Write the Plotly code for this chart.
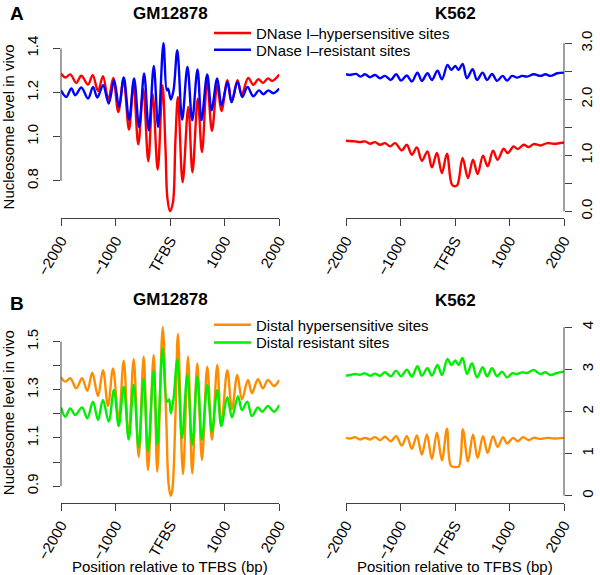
import plotly.graph_objects as go

# ---------------- data ----------------
pos_ticks = [-2000, -1000, 0, 1000, 2000]
pos_labels = ["\u22122000", "\u22121000", "TFBS", "1000", "2000"]

# Panel A, GM12878
gm_hs_x = [-2000, -1921, -1830, -1720, -1628, -1505, -1419, -1322, -1231, -1133, -1042, -950, -855, -754,
           -672, -584, -492, -401, -320, -228, -140, -86, -50, -3, 50, 96, 143, 229, 332, 409, 506, 583,
           678, 766, 863, 940, 1050, 1127, 1234, 1311, 1430, 1523, 1615, 1701, 1792, 1871, 2000]
gm_hs_y = [1.286, 1.268, 1.282, 1.244, 1.276, 1.236, 1.279, 1.207, 1.274, 1.168, 1.266, 1.112, 1.26, 1.032,
           1.24, 0.965, 1.215, 0.889, 1.193, 0.851, 1.233, 0.95, 0.72, 0.662, 0.70, 0.98, 1.18, 0.794, 1.135,
           0.839, 1.172, 0.930, 1.252, 1.027, 1.233, 1.116, 1.256, 1.157, 1.256, 1.19, 1.266, 1.235, 1.26,
           1.244, 1.264, 1.253, 1.282]
gm_res_x = [-2000, -1903, -1811, -1738, -1628, -1505, -1413, -1334, -1229, -1125, -1028, -936, -850, -752,
            -661, -569, -477, -391, -300, -220, -123, -62, -38, 13, 62, 131, 220, 317, 404, 501, 574, 679,
            758, 862, 941, 1051, 1125, 1235, 1321, 1418, 1523, 1627, 1706, 1798, 1890, 2000]
gm_res_y = [1.21, 1.18, 1.218, 1.188, 1.223, 1.173, 1.225, 1.177, 1.233, 1.150, 1.256, 1.135, 1.268, 1.077,
            1.264, 1.044, 1.286, 1.029, 1.320, 1.044, 1.423, 1.21, 1.218, 1.168, 1.21, 1.392, 1.077, 1.316,
            1.074, 1.305, 1.074, 1.282, 1.120, 1.264, 1.142, 1.248, 1.157, 1.248, 1.180, 1.225, 1.183, 1.210,
            1.192, 1.21, 1.197, 1.218]

# Panel A, K562
k_hs_x = [-2000, -1834, -1743, -1651, -1559, -1467, -1375, -1283, -1191, -1099, -976, -884, -792, -700,
          -608, -505, -424, -332, -240, -148, -56, 5, 48, 139, 238, 330, 415, 514, 599, 698, 782, 893, 967,
          1077, 1151, 1261, 1353, 1445, 1568, 1691, 1813, 2000]
k_hs_y = [1.260, 1.248, 1.236, 1.248, 1.206, 1.236, 1.188, 1.218, 1.159, 1.218, 1.087, 1.188, 1.010, 1.141,
          0.903, 1.069, 0.784, 1.040, 0.684, 1.028, 0.476, 0.446, 0.476, 0.951, 0.594, 0.921, 0.666, 0.992,
          0.802, 1.081, 0.921, 1.117, 1.040, 1.159, 1.111, 1.188, 1.147, 1.200, 1.176, 1.218, 1.206, 1.230]
k_res_x = [-2000, -1926, -1816, -1730, -1651, -1559, -1467, -1375, -1283, -1178, -1080, -989, -884, -792,
           -689, -608, -505, -424, -321, -240, -137, -69, 5, 66, 139, 220, 323, 404, 507, 588, 680, 771,
           875, 955, 1047, 1139, 1231, 1323, 1445, 1568, 1660, 1752, 1875, 2000]
k_res_y = [2.447, 2.435, 2.453, 2.406, 2.447, 2.394, 2.435, 2.376, 2.418, 2.346, 2.447, 2.334, 2.424, 2.317,
           2.477, 2.329, 2.465, 2.346, 2.513, 2.358, 2.614, 2.525, 2.596, 2.525, 2.631, 2.376, 2.537, 2.346,
           2.477, 2.346, 2.453, 2.329, 2.418, 2.334, 2.418, 2.388, 2.418, 2.406, 2.447, 2.418, 2.447, 2.418,
           2.465, 2.477]

# Panel B, GM12878
gm_dhs_x = [-2000, -1921, -1830, -1720, -1615, -1518, -1427, -1322, -1231, -1139, -1047, -943, -851, -760,
            -668, -577, -485, -406, -302, -236, -137, -71, -27, 10, 40, 98, 143, 235, 327, 405, 497, 583,
            680, 766, 863, 937, 1047, 1133, 1230, 1316, 1426, 1499, 1609, 1701, 1792, 1902, 2000]
gm_dhs_y = [1.352, 1.334, 1.348, 1.306, 1.348, 1.296, 1.371, 1.274, 1.382, 1.233, 1.389, 1.175, 1.421, 1.099,
            1.427, 1.022, 1.438, 0.967, 1.445, 0.960, 1.560, 1.175, 0.905, 0.860, 0.885, 1.2, 1.532, 0.950,
            1.438, 0.953, 1.410, 1.009, 1.396, 1.092, 1.403, 1.150, 1.382, 1.219, 1.362, 1.261, 1.341, 1.286,
            1.344, 1.306, 1.341, 1.316, 1.341]
gm_dres_x = [-2000, -1921, -1830, -1738, -1615, -1518, -1414, -1322, -1231, -1126, -1030, -943, -851, -760,
             -668, -577, -485, -406, -302, -236, -137, -60, -20, 13, 60, 131, 217, 314, 405, 497, 583, 680,
             766, 863, 937, 1047, 1133, 1243, 1316, 1413, 1499, 1609, 1688, 1792, 1902, 2000]
gm_dres_y = [1.227, 1.188, 1.223, 1.195, 1.227, 1.182, 1.251, 1.175, 1.258, 1.168, 1.30, 1.150, 1.313, 1.094,
             1.32, 1.060, 1.345, 1.045, 1.38, 1.071, 1.472, 1.25, 1.26, 1.203, 1.26, 1.427, 1.099, 1.362,
             1.071, 1.355, 1.092, 1.320, 1.126, 1.299, 1.150, 1.269, 1.186, 1.274, 1.216, 1.251, 1.191, 1.227,
             1.209, 1.233, 1.209, 1.237]

# Panel B, K562
k_dhs_x = [-2000, -1926, -1834, -1743, -1651, -1559, -1467, -1375, -1283, -1178, -1080, -976, -884, -792,
           -700, -608, -516, -424, -332, -240, -148, -75, 5, 72, 145, 238, 330, 415, 514, 599, 698, 782, 881,
           955, 1065, 1151, 1249, 1353, 1445, 1568, 1691, 1813, 2000]
k_dhs_y = [1.375, 1.359, 1.391, 1.335, 1.375, 1.335, 1.391, 1.319, 1.399, 1.295, 1.415, 1.191, 1.415, 1.112,
           1.431, 0.976, 1.455, 0.872, 1.494, 0.840, 1.590, 0.713, 0.681, 0.697, 1.574, 0.817, 1.455, 0.896,
           1.415, 1.016, 1.415, 1.160, 1.391, 1.239, 1.375, 1.295, 1.391, 1.319, 1.375, 1.351, 1.375, 1.359,
           1.375]
k_dres_x = [-2000, -1926, -1834, -1743, -1651, -1559, -1467, -1375, -1283, -1178, -1080, -989, -884, -792,
            -689, -608, -505, -424, -321, -240, -137, -69, 5, 66, 139, 220, 312, 404, 508, 588, 680, 771, 863,
            955, 1047, 1139, 1231, 1323, 1445, 1568, 1660, 1752, 1875, 2000]
k_dres_y = [2.850, 2.866, 2.890, 2.874, 2.906, 2.850, 2.898, 2.850, 2.930, 2.834, 2.970, 2.834, 2.994, 2.826,
            3.073, 2.850, 3.026, 2.850, 3.105, 2.866, 3.249, 3.105, 3.209, 3.105, 3.273, 2.890, 3.145, 2.810,
            3.050, 2.834, 3.026, 2.834, 2.946, 2.810, 2.906, 2.890, 2.930, 2.914, 2.986, 2.890, 2.930, 2.866,
            2.914, 2.946]

yticks_a_left = [0.8, 1.0, 1.2, 1.4]
yticks_a_right = [0.0, 0.5, 1.0, 1.5, 2.0, 2.5, 3.0]
ylabels_a_right = ["0.0", "", "1.0", "", "2.0", "", "3.0"]
yticks_b_left = [0.9, 1.0, 1.1, 1.2, 1.3, 1.4, 1.5]
ylabels_b_left = ["0.9", "", "1.1", "", "1.3", "", "1.5"]
yticks_b_right = [0, 1, 2, 3, 4]

legend_a = ["DNase I\u2013hypersensitive sites", "DNase I\u2013resistant sites"]
legend_b = ["Distal hypersensitive sites", "Distal resistant sites"]

# ---------------- styling ----------------
W, H = 600, 575
FONT = "Liberation Sans, Arial, Helvetica, sans-serif"
AX = "#404040"
RED, BLUE, ORANGE, GREEN = "#FF0000", "#0000FF", "#FF8C00", "#00EE00"
LW = 2.4


def fx(px):
    return px / W


def fy(py):
    return 1 - py / H


def r_range(vals):
    lo, hi = min(vals), max(vals)
    d = (hi - lo) * 0.04
    return [lo - d, hi + d]


fig = go.Figure()


def add(x, y, color, xa, ya, name=None, legend=None):
    fig.add_trace(go.Scatter(
        x=x, y=y, mode="lines", xaxis=xa, yaxis=ya,
        line=dict(color=color, width=LW, shape="spline", smoothing=1.0),
        name=name or "", showlegend=legend is not None, legend=legend or "legend",
        hoverinfo="skip"))


add(gm_hs_x, gm_hs_y, RED, "x", "y", legend_a[0], "legend")
add(gm_res_x, gm_res_y, BLUE, "x", "y", legend_a[1], "legend2")
add(k_hs_x, k_hs_y, RED, "x2", "y2")
add(k_res_x, k_res_y, BLUE, "x2", "y2")
add(gm_dhs_x, gm_dhs_y, ORANGE, "x3", "y3", legend_b[0], "legend3")
add(gm_dres_x, gm_dres_y, GREEN, "x3", "y3", legend_b[1], "legend4")
add(k_dhs_x, k_dhs_y, ORANGE, "x4", "y4")
add(k_dres_x, k_dres_y, GREEN, "x4", "y4")

left_dom = [fx(61), fx(279.3)]
right_dom = [fx(346), fx(564)]
top_dom = [fy(218), fy(36.6)]
bot_dom = [fy(502.5), fy(320.5)]

tickfont = dict(family=FONT, size=15, color="black")

xcommon = dict(range=[-2000, 2000], tickvals=pos_ticks, ticktext=pos_labels, tickangle=-60,
               showline=True, linecolor=AX, linewidth=1, ticks="outside", ticklen=7, tickcolor=AX,
               showgrid=False, zeroline=False, tickfont=tickfont, automargin=False)
ycommon = dict(showline=False, ticks="outside", ticklen=7, tickcolor=AX, showgrid=False,
               zeroline=False, tickangle=-90, tickfont=tickfont, automargin=False)

fig.update_layout(
    xaxis=dict(domain=left_dom, anchor="y", **xcommon),
    xaxis2=dict(domain=right_dom, anchor="y2", **xcommon),
    xaxis3=dict(domain=left_dom, anchor="y3", **xcommon),
    xaxis4=dict(domain=right_dom, anchor="y4", **xcommon),
    yaxis=dict(domain=top_dom, anchor="x", range=r_range(gm_hs_y + gm_res_y),
               tickvals=yticks_a_left, ticktext=["%.1f" % v for v in yticks_a_left],
               ticklabelstandoff=9, **ycommon),
    yaxis2=dict(domain=top_dom, anchor="x2", side="right",
                range=r_range([yticks_a_right[0], yticks_a_right[-1]]),
                tickvals=yticks_a_right, ticktext=ylabels_a_right, ticklabelstandoff=2, **ycommon),
    yaxis3=dict(domain=bot_dom, anchor="x3", range=r_range(gm_dhs_y + gm_dres_y),
                tickvals=yticks_b_left, ticktext=ylabels_b_left, ticklabelstandoff=9, **ycommon),
    yaxis4=dict(domain=bot_dom, anchor="x4", side="right",
                range=r_range([yticks_b_right[0], yticks_b_right[-1]]),
                tickvals=yticks_b_right, ticktext=[str(v) for v in yticks_b_right],
                ticklabelstandoff=3, **ycommon),
)

# R-style y axis lines spanning only the tick range
for yref, xref, xpos, ticks in [("y", "x domain", 0, yticks_a_left), ("y2", "x2 domain", 1, yticks_a_right),
                                ("y3", "x3 domain", 0, yticks_b_left), ("y4", "x4 domain", 1, yticks_b_right)]:
    fig.add_shape(type="line", xref=xref, yref=yref, x0=xpos, x1=xpos, y0=min(ticks), y1=max(ticks),
                  line=dict(color=AX, width=1))

legfont = dict(family=FONT, size=15, color="black")
leg = dict(xanchor="left", yanchor="middle", bgcolor="rgba(0,0,0,0)", borderwidth=0,
           font=legfont, itemwidth=37)
fig.update_layout(
    legend=dict(x=fx(209), y=fy(33.3), **leg),
    legend2=dict(x=fx(209), y=fy(50), **leg),
    legend3=dict(x=fx(209), y=fy(325), **leg),
    legend4=dict(x=fx(209), y=fy(342.7), **leg),
)

ann = []
for txt, x, y in [("GM12878", 170.5, 14), ("K562", 455, 14), ("GM12878", 170.5, 299), ("K562", 455, 300)]:
    ann.append(dict(text="<b>%s</b>" % txt, x=fx(x), y=fy(y), xref="paper", yref="paper",
                    showarrow=False, font=dict(family=FONT, size=17, color="black"),
                    xanchor="center", yanchor="middle"))
for txt, y in [("A", 13), ("B", 303.7)]:
    ann.append(dict(text="<b>%s</b>" % txt, x=fx(16.7), y=fy(y), xref="paper", yref="paper",
                    showarrow=False, font=dict(family=FONT, size=19, color="black"),
                    xanchor="center", yanchor="middle"))
for y in [126.7, 412.5]:
    ann.append(dict(text="Nucleosome level in vivo", x=fx(8.7), y=fy(y), xref="paper", yref="paper",
                    showarrow=False, textangle=-90, font=dict(family=FONT, size=15, color="black"),
                    xanchor="center", yanchor="middle"))
for x in [170.3, 455]:
    ann.append(dict(text="Position relative to TFBS (bp)", x=fx(x), y=fy(566), xref="paper", yref="paper",
                    showarrow=False, font=dict(family=FONT, size=15, color="black"),
                    xanchor="center", yanchor="middle"))

fig.update_layout(annotations=ann, width=W, height=H, margin=dict(l=0, r=0, t=0, b=0, autoexpand=False),
                  paper_bgcolor="white", plot_bgcolor="white", font=dict(family=FONT))

fig.write_html("out.html", config={"displayModeBar": False},
               post_script="document.body.style.margin='0';document.body.style.overflow='hidden';")
